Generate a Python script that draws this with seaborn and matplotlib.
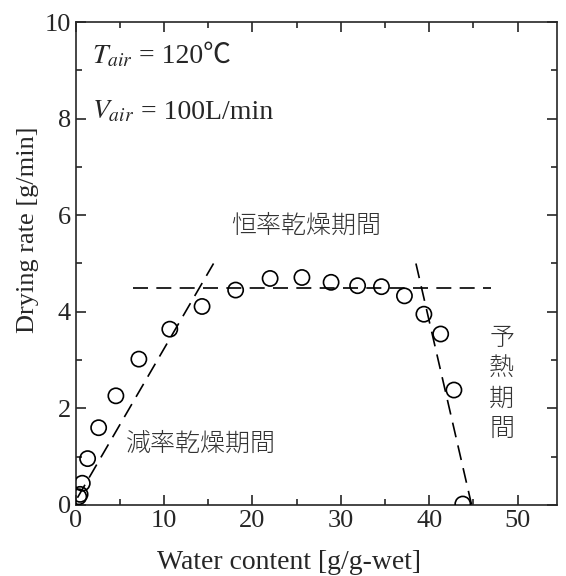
import matplotlib
matplotlib.use("Agg")
import matplotlib.pyplot as plt
import seaborn as sns
import pandas as pd
from matplotlib.ticker import MultipleLocator

sns.set_style("ticks")
plt.rcParams['font.family'] = ['Liberation Serif', 'Noto Sans CJK JP', 'DejaVu Sans']
plt.rcParams['mathtext.fontset'] = 'stix'

# measured points
water = [0.35, 0.5, 0.75, 1.35, 2.6, 4.55, 7.15, 10.65, 14.3, 18.1, 22.0, 25.6, 28.9, 31.9, 34.6, 37.2, 39.4, 41.3, 42.8, 43.8]
rate = [0.17, 0.22, 0.45, 0.96, 1.60, 2.26, 3.02, 3.64, 4.11, 4.45, 4.69, 4.71, 4.61, 4.54, 4.52, 4.33, 3.95, 3.54, 2.38, 0.02]

# guide lines for the three periods
const_x = [6.5, 47.0]
const_y = [4.5, 4.5]
falling_x = [0.2, 15.6]
falling_y = [0.15, 5.0]
preheat_x = [38.5, 44.8]
preheat_y = [5.0, 0.0]

df = pd.DataFrame({"water": water, "rate": rate})

fig = plt.figure(figsize=(5.66, 5.76), dpi=100)
ax = fig.add_axes([0.1337, 0.1233, 0.851, 0.8385])

for lx, ly in [(const_x, const_y), (falling_x, falling_y), (preheat_x, preheat_y)]:
    ax.plot(lx, ly, color="black", lw=1.2, dashes=(9, 5))

sns.scatterplot(data=df, x="water", y="rate", ax=ax, marker="o", s=120,
                facecolor="none", edgecolor="black", linewidth=1.2, zorder=3)

ax.set_xlim(0, 54.5)
ax.set_ylim(0, 10)
ax.xaxis.set_major_locator(MultipleLocator(10))
ax.xaxis.set_minor_locator(MultipleLocator(5))
ax.yaxis.set_major_locator(MultipleLocator(2))
ax.yaxis.set_minor_locator(MultipleLocator(1))
ax.tick_params(which="both", direction="in", top=True, right=True, width=1.2, labelsize=19, pad=3.5)
ax.tick_params(which="major", length=7)
ax.tick_params(which="minor", length=4)
for sp in ax.spines.values():
    sp.set_linewidth(1.2)

ax.set_xlabel("Water content [g/g-wet]", fontsize=20)
ax.set_ylabel("Drying rate [g/min]", fontsize=19)
ax.xaxis.set_label_coords(0.443, -0.0935)
ax.yaxis.set_label_coords(-0.076, 0.57)

# labels with italic subscripted symbol, rest as plain text (℃ needs a fallback font)
fig.canvas.draw()
for yy, sym, rest in [(9.15, r"$T_{air}$", " = 120℃"), (8.0, r"$V_{air}$", " = 100L/min")]:
    t = ax.text(1.8, yy, sym, fontsize=20, va="baseline")
    bb = t.get_window_extent(renderer=fig.canvas.get_renderer())
    x2 = ax.transData.inverted().transform((bb.x1, 0))[0]
    ax.text(x2, yy, rest, fontsize=20, va="baseline")

jp = ['Noto Sans CJK JP']
ax.text(26.1, 5.78, "恒率乾燥期間", family=jp, fontsize=18, color="#333333",
        ha="center", va="center", fontweight="light")
ax.text(14.2, 1.28, "減率乾燥期間", family=jp, fontsize=18, color="#333333",
        ha="center", va="center", fontweight="light")
ax.text(48.2, 2.52, "予\n熱\n期\n間", family=jp, fontsize=18, color="#333333",
        ha="center", va="center", linespacing=1.2, fontweight="light")

fig.savefig("out.png", dpi=100)
